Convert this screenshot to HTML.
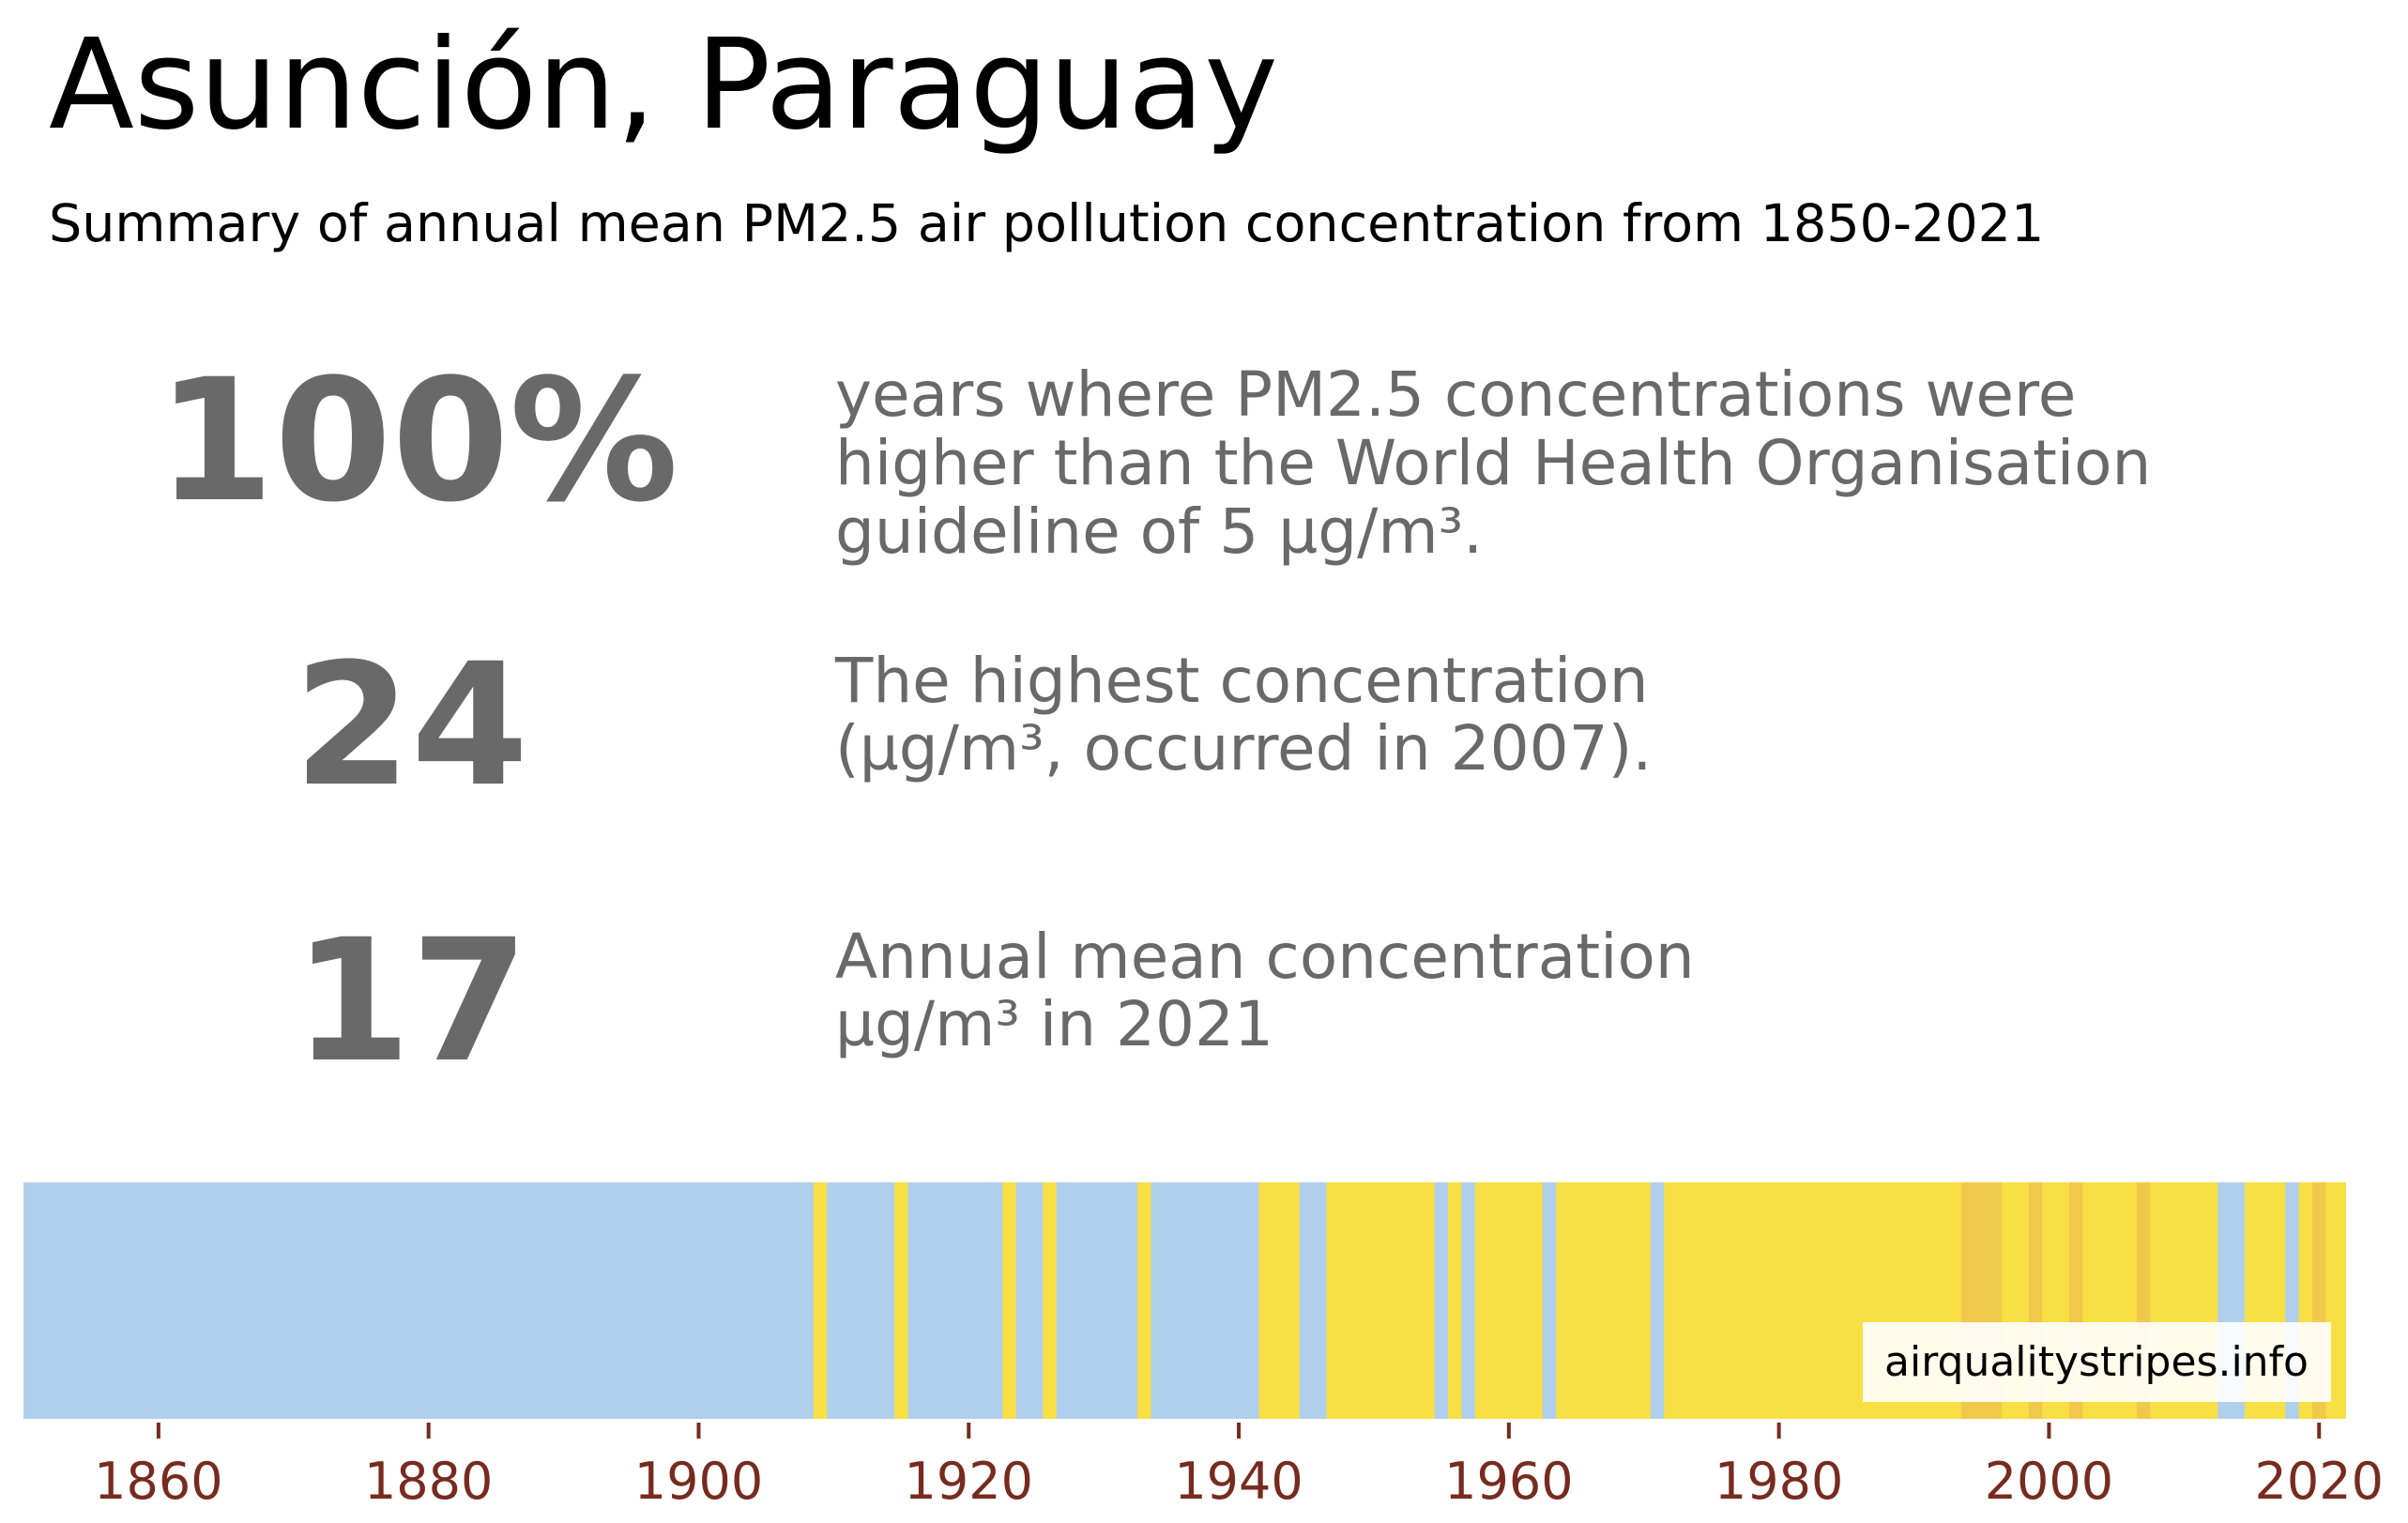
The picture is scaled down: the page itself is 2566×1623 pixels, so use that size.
<!DOCTYPE html>
<html>
<head>
<meta charset="utf-8">
<style>
  html, body { margin: 0; padding: 0; background: #ffffff; }
  svg { display: block; }
  text { font-family: "DejaVu Sans", "Liberation Sans", sans-serif; }
</style>
</head>
<body>
<svg id="chart" width="2566" height="1623" viewBox="0 0 2566 1623" xmlns="http://www.w3.org/2000/svg">
  <rect x="0" y="0" width="2566" height="1623" fill="#ffffff"/>
  <text x="52" y="136" font-size="133" fill="#000000">Asunción, Paraguay</text>
  <text x="52" y="257" font-size="55.5" fill="#000000">Summary of annual mean PM2.5 air pollution concentration from 1850-2021</text>

  <text x="445" y="532" font-size="180" font-weight="bold" fill="#696969" text-anchor="middle">100%</text>
  <g fill="#696969" font-size="66">
    <text x="890" y="443">years where PM2.5 concentrations were</text>
    <text x="890" y="516">higher than the World Health Organisation</text>
    <text x="890" y="589">guideline of 5 µg/m³.</text>
  </g>

  <text x="438" y="835" font-size="180" font-weight="bold" fill="#696969" text-anchor="middle">24</text>
  <g fill="#696969" font-size="66">
    <text x="890" y="748">The highest concentration</text>
    <text x="890" y="820">(µg/m³, occurred in 2007).</text>
  </g>

  <text x="438" y="1129" font-size="180" font-weight="bold" fill="#696969" text-anchor="middle">17</text>
  <g fill="#696969" font-size="66">
    <text x="890" y="1042">Annual mean concentration</text>
    <text x="890" y="1114">µg/m³ in 2021</text>
  </g>

  <g id="stripes"></g>
  <g id="xaxis"></g>

  <rect x="1985" y="1409" width="499" height="85" fill="#ffffff" fill-opacity="0.9"/>
  <text x="2234" y="1466" font-size="44" fill="#000000" text-anchor="middle">airqualitystripes.info</text>
</svg>
<script>
const startYear = 1850;
const pmValues = [
  6.1,6.2,6.2,6.3,6.3,6.4,6.4,6.5,6.5,6.6,
  6.6,6.7,6.7,6.8,6.8,6.9,6.9,7.0,7.0,7.1,
  7.1,7.2,7.2,7.3,7.3,7.4,7.4,7.5,7.5,7.6,
  7.6,7.7,7.7,7.8,7.8,7.9,7.9,8.0,8.0,8.1,
  8.1,8.2,8.2,8.3,8.3,8.4,8.4,8.5,8.5,8.6,
  8.6,8.7,8.8,8.8,8.9,9.0,9.0,9.1,9.2,10.2,
  9.3,9.4,9.3,9.5,9.6,10.1,9.4,9.5,9.6,9.5,
  9.7,9.6,9.8,10.2,9.7,9.8,10.3,9.6,9.7,9.8,
  9.7,9.8,9.9,10.4,9.6,9.7,9.8,9.9,9.8,9.9,
  9.9,9.8,10.5,10.6,10.4,9.8,9.9,10.8,11.2,11.5,
  11.8,12.0,11.5,11.0,10.6,9.9,10.4,9.9,10.8,11.2,
  11.6,11.0,10.5,9.9,10.7,11.3,11.8,12.2,11.5,10.8,
  10.3,9.9,11.0,12.0,12.8,13.5,14.0,14.6,15.0,15.5,
  16.0,16.4,16.8,17.1,17.5,17.8,18.0,18.3,18.6,18.9,
  19.1,19.3,19.5,19.8,21.0,21.8,20.8,19.6,19.2,20.5,
  19.4,19.7,20.6,19.5,19.2,18.8,19.6,24.0,19.4,18.5,
  16.0,14.0,11.5,9.6,9.8,12.5,13.8,12.0,9.9,13.0,
  20.4,17.0
];
const tickYears = [1860, 1880, 1900, 1920, 1940, 1960, 1980, 2000, 2020];
const tickLabels = ["1860", "1880", "1900", "1920", "1940", "1960", "1980", "2000", "2020"];
const binEdges = [10, 20];
const binColors = ["#b0cfed", "#f8df44", "#f1c94a"];

const NS = "http://www.w3.org/2000/svg";
const plotLeft = 25, plotRight = 2500, plotTop = 1260, plotBottom = 1512;
const nYears = pmValues.length;
const yearWidth = (plotRight - plotLeft) / nYears;
function xScale(year) { return plotLeft + (year - startYear) * yearWidth; }
function colorFor(v) {
  let i = 0;
  while (i < binEdges.length && v >= binEdges[i]) i++;
  return binColors[i];
}

const stripes = document.getElementById('stripes');
pmValues.forEach(function (v, i) {
  const year = startYear + i;
  let x0 = Math.max(plotLeft, xScale(year) - yearWidth / 2);
  let x1 = (i === nYears - 1) ? plotRight : Math.min(plotRight, xScale(year) + yearWidth / 2 + 0.6);
  const r = document.createElementNS(NS, 'rect');
  r.setAttribute('x', x0);
  r.setAttribute('y', plotTop);
  r.setAttribute('width', x1 - x0);
  r.setAttribute('height', plotBottom - plotTop);
  r.setAttribute('fill', colorFor(v));
  
  
  stripes.appendChild(r);
});

const xaxis = document.getElementById('xaxis');
tickYears.forEach(function (y, i) {
  const x = xScale(y);
  const t = document.createElementNS(NS, 'line');
  t.setAttribute('x1', x); t.setAttribute('x2', x);
  t.setAttribute('y1', 1516); t.setAttribute('y2', 1533);
  t.setAttribute('stroke', '#772b1f');
  t.setAttribute('stroke-width', '4');
  
  
  xaxis.appendChild(t);
  const l = document.createElementNS(NS, 'text');
  l.setAttribute('x', x);
  l.setAttribute('y', 1597);
  l.setAttribute('font-size', '54');
  l.setAttribute('fill', '#772b1f');
  l.setAttribute('text-anchor', 'middle');
  l.textContent = tickLabels[i];
  
  
  xaxis.appendChild(l);
});
</script>
</body>
</html>
